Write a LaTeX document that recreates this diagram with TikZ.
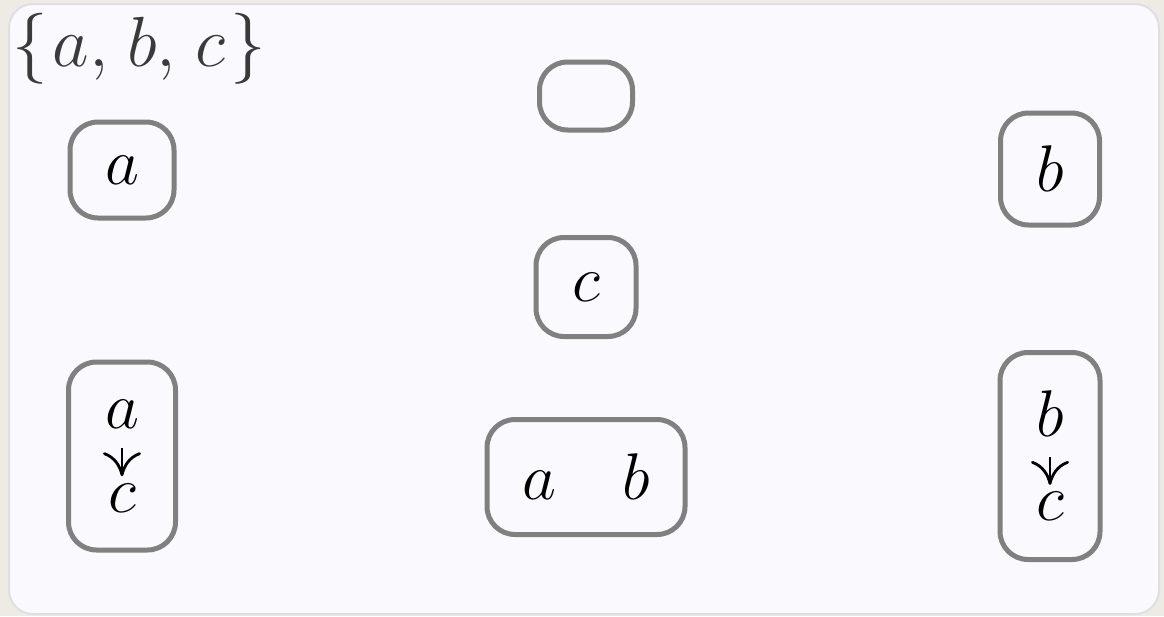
\RequirePackage{fix-cm}
\documentclass[tikz,border=0pt]{standalone}
\usepackage{amsmath,amssymb}
\usepackage{xcolor}
\usepackage{tikz}
\usetikzlibrary{arrows.meta}
\definecolor{paperbeige}{RGB}{238, 235, 229}
\definecolor{panelfill}{RGB}{249, 249, 254}
\definecolor{boxgray}{RGB}{128, 128, 128}
\definecolor{titlegray}{RGB}{58, 58, 58}
% short down arrow with a wide cm-style head
\newcommand{\flatdown}{\tikz[baseline=-22pt]\draw[black, line width=2.8pt, -{To[length=24pt, width=38pt]}] (0pt,0pt) -- (0pt,-28pt);}
\tikzset{
    setbox/.style={draw=boxgray, line width=5pt, rounded corners=28pt, fill=panelfill,
        inner sep=0pt, align=center, font=\fontsize{66}{42}\selectfont}
}

\begin{document}
\begin{tikzpicture}[x=1pt, y=-1pt]
    % Paper and panel
    \fill[paperbeige] (0,0) rectangle (1164,616);
    \useasboundingbox (0,0) rectangle (1164,616);
    \draw[gray!25, line width=2pt, fill=panelfill, rounded corners=24pt] (9,4) rectangle (1159,614);

    % Title
    \node[titlegray, anchor=base west, inner sep=0pt, font=\fontsize{71}{80}\selectfont] (title) at (12,66)
        {$\{\mkern1.3mu a,\mkern1.8mu b,\mkern1.8mu c\mkern1.3mu\}$};

    % Left column
    \node[setbox, minimum width=104pt, minimum height=96pt] (nodeA) at (122,170) {$a$};
    \node[setbox, minimum width=107pt, minimum height=188pt] (nodeAC) at (122,456) {$a$\\\flatdown\\$c$};

    % Middle column
    \node[setbox, minimum width=93pt, minimum height=68pt] (nodeEmpty) at (586,96) {};
    \node[setbox, minimum width=100pt, minimum height=99pt] (nodeC) at (586,287) {$c$};
    \node[setbox, minimum width=198pt, minimum height=115pt] (nodeAB) at (586,477) {$a\quad b$};

    % Right column
    \node[setbox, minimum width=99pt, minimum height=112pt] (nodeB) at (1050,169) {$b$};
    \node[setbox, minimum width=100pt, minimum height=207pt] (nodeBC) at (1050,456) {$b$\\\flatdown\\$c$};
\end{tikzpicture}
\end{document}
